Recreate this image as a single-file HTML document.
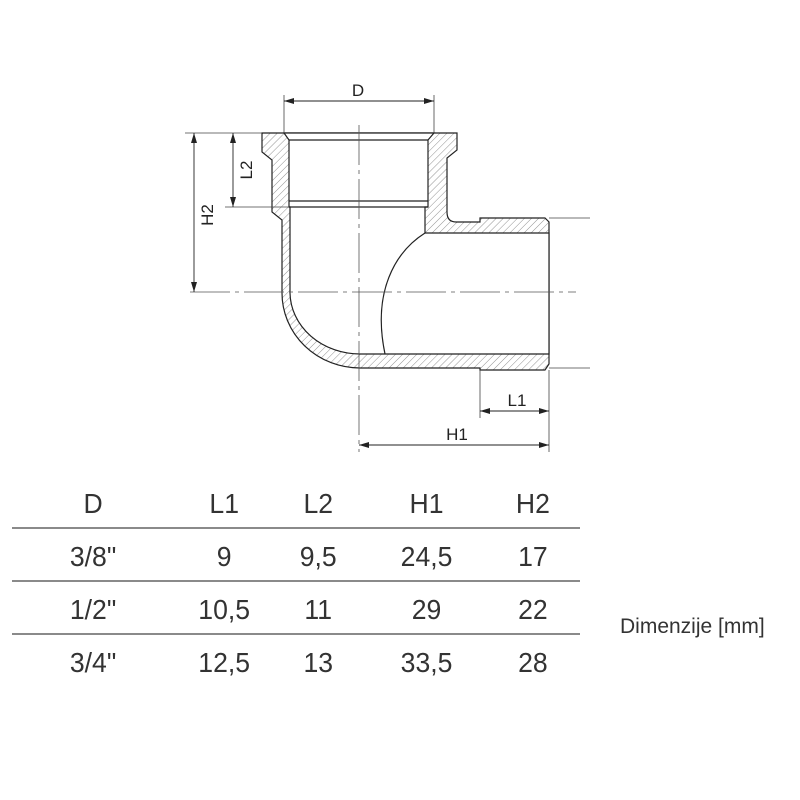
<!DOCTYPE html>
<html><head><meta charset="utf-8"><style>html,body{margin:0;padding:0;background:#fff}svg{display:block}</style></head>
<body>
<svg width="800" height="800" viewBox="0 0 800 800" xmlns="http://www.w3.org/2000/svg">
<defs>
<pattern id="h" width="5" height="5" patternUnits="userSpaceOnUse" patternTransform="rotate(45)">
<rect width="5" height="5" fill="#fff"/><line x1="0" y1="0" x2="0" y2="5" stroke="#777" stroke-width="0.8"/></pattern>
<marker id="a" markerWidth="10" markerHeight="6" refX="10" refY="3" orient="auto-start-reverse" markerUnits="userSpaceOnUse"><path d="M0,0 L10,3 L0,6 z" fill="#222"/></marker>
</defs>
<g stroke="#222" stroke-width="1.2" fill="none">
<path fill="url(#h)" d="M262,133 L457,133 L457,150 L447,158 L447,212 Q447,222 456,222 L480,222 L480,218 L545,218 L549,222 L549,364 L545,370 L480,370 L480,368 L360,368 A78,75 0 0 1 282,293 L282,220 L272,212 L272,160 L262,152 Z"/>
<path fill="#fff" d="M284,133 L434,133 L428,140 L428,207 L425,207 L425,233 L549,233 L549,354 L360,354 A70,62 0 0 1 290,293 L290,207 L289,207 L289,140 Z"/>
<line x1="289" y1="140" x2="428" y2="140"/>
<line x1="289" y1="201" x2="428" y2="201"/>
<line x1="289" y1="207" x2="428" y2="207"/>
<path d="M425,233 C395,252 372,292 385,354"/>
</g>
<g stroke="#555" stroke-width="0.8" stroke-dasharray="40,5,4,5" fill="none">
<line x1="359" y1="125" x2="359" y2="452"/>
<line x1="190" y1="292" x2="576" y2="292"/>
</g>
<g stroke="#444" stroke-width="0.8">
<line x1="284" y1="95" x2="284" y2="133"/>
<line x1="434" y1="95" x2="434" y2="133"/>
<line x1="185" y1="133" x2="262" y2="133"/>
<line x1="225" y1="207" x2="289" y2="207"/>
<line x1="549" y1="218" x2="590" y2="218"/>
<line x1="549" y1="368" x2="590" y2="368"/>
<line x1="480" y1="370" x2="480" y2="418"/>
<line x1="549" y1="370" x2="549" y2="452"/>
</g>
<g stroke="#222" stroke-width="0.9" marker-start="url(#a)" marker-end="url(#a)">
<line x1="284" y1="101" x2="434" y2="101"/>
<line x1="194" y1="133" x2="194" y2="292"/>
<line x1="233" y1="133" x2="233" y2="207"/>
<line x1="480" y1="411" x2="549" y2="411"/>
<line x1="359" y1="445" x2="549" y2="445"/>
</g>
<g font-family="Liberation Sans, sans-serif" font-size="17" fill="#222">
<text x="358" y="96" text-anchor="middle">D</text>
<text x="517" y="406" text-anchor="middle">L1</text>
<text x="457" y="440" text-anchor="middle">H1</text>
<text transform="translate(213,215) rotate(-90)" text-anchor="middle">H2</text>
<text transform="translate(252,170) rotate(-90)" text-anchor="middle">L2</text>
</g>
<g stroke="#444" stroke-width="1.2">
<line x1="12" y1="528" x2="580" y2="528"/>
<line x1="12" y1="581" x2="580" y2="581"/>
<line x1="12" y1="634" x2="580" y2="634"/>
</g>
<g font-family="Liberation Sans, sans-serif" font-size="28" fill="#333" text-anchor="middle">
<g transform="scale(0.95,1)">
<text x="98" y="513">D</text><text x="236" y="513">L1</text><text x="335" y="513">L2</text><text x="449" y="513">H1</text><text x="561" y="513">H2</text>
<text x="98" y="566">3/8"</text><text x="236" y="566">9</text><text x="335" y="566">9,5</text><text x="449" y="566">24,5</text><text x="561" y="566">17</text>
<text x="98" y="619">1/2"</text><text x="236" y="619">10,5</text><text x="335" y="619">11</text><text x="449" y="619">29</text><text x="561" y="619">22</text>
<text x="98" y="672">3/4"</text><text x="236" y="672">12,5</text><text x="335" y="672">13</text><text x="449" y="672">33,5</text><text x="561" y="672">28</text>
</g>
<text x="620" y="633" font-size="21" text-anchor="start">Dimenzije [mm]</text>
</g>
</svg>
</body></html>
